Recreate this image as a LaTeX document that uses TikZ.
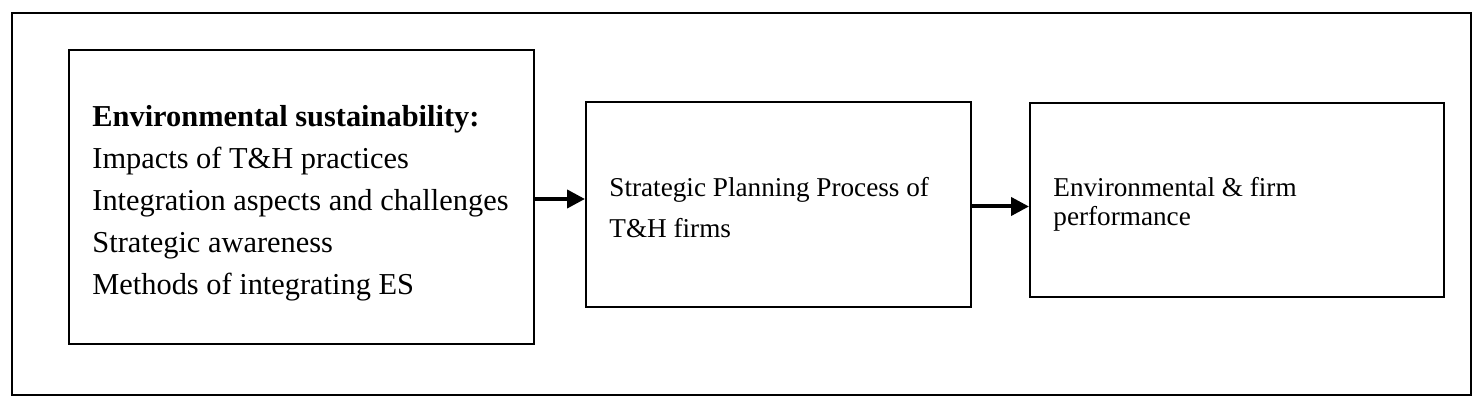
\documentclass[tikz,border=0pt]{standalone}
\usepackage{fontspec}
\setmainfont{Liberation Serif}
\usetikzlibrary{arrows.meta,positioning}
\tikzset{
  framebox/.style={draw,line width=1pt,anchor=north west,inner sep=0pt},
  boxtext/.style={anchor=north west,align=left,inner sep=0pt},
  flow/.style={line width=2pt,-{Triangle[length=9pt,width=9pt]}}
}
\begin{document}
\begin{tikzpicture}[x=0.5pt,y=-0.5pt]
\useasboundingbox (0,0) rectangle (1483,410);
\draw[line width=1pt] (12,13) rectangle (1471,395);
\node[framebox,minimum width=232.5pt,minimum height=147pt] (es) at (68,49) {};
\node[framebox,minimum width=192.5pt,minimum height=102.5pt] (spp) at (585,101) {};
\node[framebox,minimum width=207pt,minimum height=97pt] (perf) at (1029,102) {};
\node[boxtext,font=\fontsize{15.2}{21}\selectfont] (estext) at ([xshift=12pt,yshift=-28pt]es.north west)
{\textbf{Environmental sustainability:}\\Impacts of T\&H practices\\Integration aspects and challenges\\Strategic awareness\\Methods of integrating ES};
\node[boxtext,font=\fontsize{13.6}{20.5}\selectfont] (spptext) at ([xshift=12pt,yshift=-38pt]spp.north west)
{Strategic Planning Process of\\T\&H firms};
\node[boxtext,font=\fontsize{13.6}{14.5}\selectfont] (perftext) at ([xshift=12pt,yshift=-37.5pt]perf.north west)
{Environmental \& firm\\performance};
\draw[flow] ([yshift=-1pt]es.east) -- ([yshift=-1pt]es.east -| spp.west);
\draw[flow] ([yshift=-1pt]spp.east) -- ([yshift=-1pt]spp.east -| perf.west);
\end{tikzpicture}
\end{document}
